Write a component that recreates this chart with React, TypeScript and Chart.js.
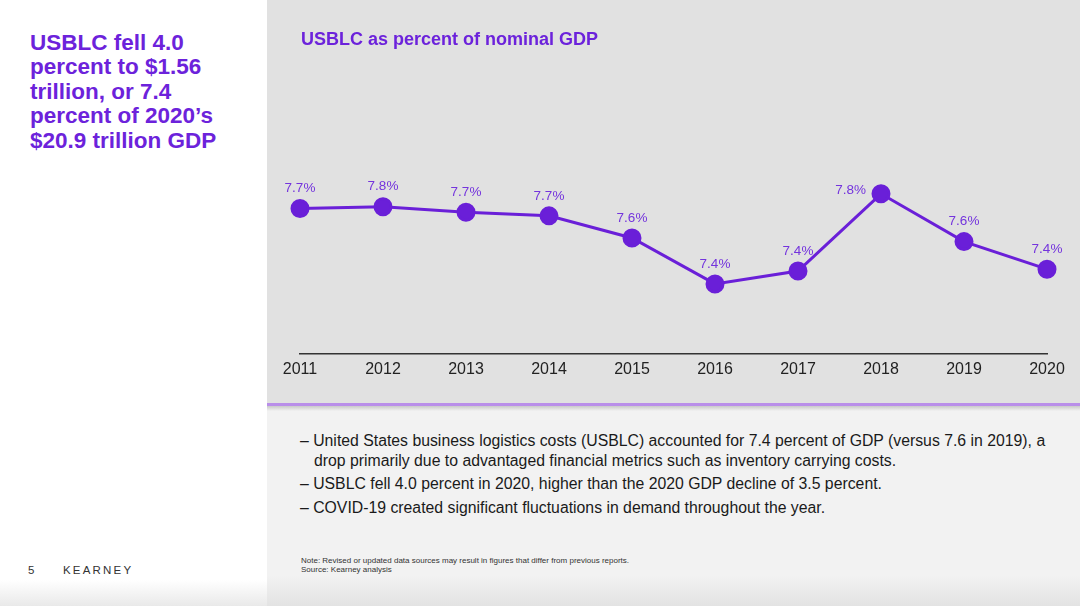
import React, { useEffect, useRef } from "react";
import { Chart, registerables } from "chart.js";

Chart.register(...registerables);

const years = ["2011", "2012", "2013", "2014", "2015", "2016", "2017", "2018", "2019", "2020"];
const usblcPctGdp = [7.74, 7.75, 7.72, 7.7, 7.58, 7.33, 7.4, 7.82, 7.56, 7.41];
const pointLabels = ["7.7%", "7.8%", "7.7%", "7.7%", "7.6%", "7.4%", "7.4%", "7.8%", "7.6%", "7.4%"];

const PURPLE = "#6a1fd8";
const LABEL_PURPLE = "#7434dd";

const labelPlugin = {
  id: "pointLabels",
  afterDatasetsDraw(chart: any) {
    const ctx = chart.ctx;
    const meta = chart.getDatasetMeta(0);
    ctx.save();
    ctx.font = "13.5px 'Liberation Sans', Arial, sans-serif";
    ctx.fillStyle = LABEL_PURPLE;
    ctx.textBaseline = "middle";
    meta.data.forEach((pt: any, i: number) => {
      const isPeak = i === 7;
      if (isPeak) {
        ctx.textAlign = "right";
        ctx.fillText(pointLabels[i], pt.x - 15, pt.y - 4);
      } else {
        ctx.textAlign = "center";
        ctx.fillText(pointLabels[i], pt.x, pt.y - 20);
      }
    });
    ctx.restore();
  },
};

function LineChart() {
  const ref = useRef<HTMLCanvasElement | null>(null);
  useEffect(() => {
    if (!ref.current) return;
    const chart = new Chart(ref.current, {
      type: "line",
      data: {
        labels: years,
        datasets: [
          {
            data: usblcPctGdp,
            borderColor: PURPLE,
            backgroundColor: PURPLE,
            borderWidth: 3,
            pointRadius: 8,
            pointHoverRadius: 8,
            pointBackgroundColor: PURPLE,
            pointBorderColor: PURPLE,
            tension: 0,
            clip: false as any,
          },
        ],
      },
      options: {
        responsive: false,
        animation: false,
        maintainAspectRatio: false,
        layout: { padding: { top: 100, bottom: 17, left: 32, right: 33 } },
        plugins: { legend: { display: false }, tooltip: { enabled: false }, title: { display: false } },
        scales: {
          x: {
            offset: false,
            grid: { display: false, drawTicks: false },
            border: { display: true, color: "#333333", width: 1.5 },
            ticks: {
              color: "#222222",
              padding: 6,
              font: { size: 16, family: "'Liberation Sans', Arial, sans-serif" },
              maxRotation: 0,
              autoSkip: false,
            },
          },
          y: {
            display: false,
            min: 6.95,
            max: 8.33,
          },
        },
      },
      plugins: [labelPlugin],
    });
    return () => chart.destroy();
  }, []);
  return <canvas ref={ref} width={812} height={402} style={{ position: "absolute", left: 268, top: 0, width: 812, height: 402 }} />;
}

export default function App() {
  const font = "'Liberation Sans', Arial, Helvetica, sans-serif";
  return (
    <div style={{ position: "fixed", left: 0, top: 0, width: 1080, height: 606, overflow: "hidden", fontFamily: font, background: "#ffffff" }}>
      {/* left panel bottom fade */}
      <div style={{ position: "absolute", left: 0, top: 580, width: 267, height: 26, background: "linear-gradient(#ffffff, #e9e9e9)" }} />
      {/* right top gray panel */}
      <div style={{ position: "absolute", left: 267, top: 0, width: 813, height: 403, background: "#e1e1e1" }} />
      {/* right bottom panel */}
      <div style={{ position: "absolute", left: 267, top: 406, width: 813, height: 200, background: "linear-gradient(#f2f2f2 0px, #f2f2f2 170px, #e3e3e3 200px)" }} />
      {/* shadow */}
      <div style={{ position: "absolute", left: 267, top: 406, width: 813, height: 5, background: "linear-gradient(#c9c9c9, #f2f2f2)" }} />
      {/* purple strip */}
      <div style={{ position: "absolute", left: 267, top: 403, width: 813, height: 3, background: "#b98ee9" }} />

      <LineChart />

      <div style={{ position: "absolute", left: 30, top: 31, width: 236, color: "#6c22db", fontWeight: 700, fontSize: 22.5, lineHeight: "24.4px" }}>
        USBLC fell 4.0
        <br />
        percent to $1.56
        <br />
        trillion, or 7.4
        <br />
        percent of 2020’s
        <br />
        $20.9 trillion GDP
      </div>

      <div style={{ position: "absolute", left: 301, top: 29, color: "#6c22db", fontWeight: 700, fontSize: 18, whiteSpace: "nowrap" }}>
        USBLC as percent of nominal GDP
      </div>

      <div style={{ position: "absolute", left: 300, top: 431, fontSize: 15.8, color: "#1a1a1a", lineHeight: "20px", whiteSpace: "nowrap" }}>
        <div style={{ paddingLeft: 14, textIndent: -14 }}>
          – United States business logistics costs (USBLC) accounted for 7.4 percent of GDP (versus 7.6 in 2019), a
          <br />
          drop primarily due to advantaged financial metrics such as inventory carrying costs.
        </div>
        <div style={{ marginTop: 3 }}>– USBLC fell 4.0 percent in 2020, higher than the 2020 GDP decline of 3.5 percent.</div>
        <div style={{ marginTop: 4 }}>– COVID-19 created significant fluctuations in demand throughout the year.</div>
      </div>

      <div style={{ position: "absolute", left: 301, top: 556, fontSize: 8, color: "#333", lineHeight: "9px", whiteSpace: "nowrap" }}>
        Note: Revised or updated data sources may result in figures that differ from previous reports.
        <br />
        Source: Kearney analysis
      </div>

      <div style={{ position: "absolute", left: 28, top: 564, fontSize: 11.5, color: "#333" }}>5</div>
      <div style={{ position: "absolute", left: 63, top: 564, fontSize: 11.5, color: "#333", letterSpacing: 2.2 }}>KEARNEY</div>
    </div>
  );
}
